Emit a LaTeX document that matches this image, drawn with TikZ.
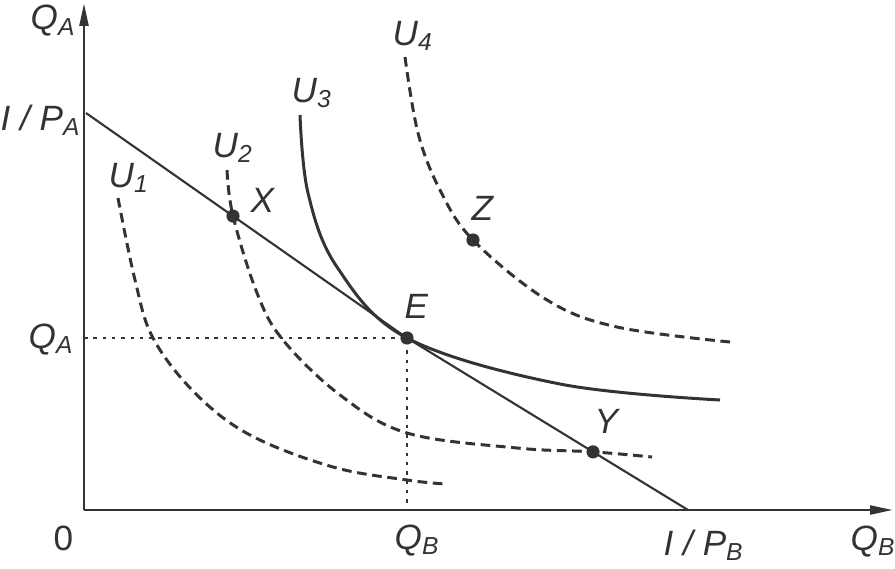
\documentclass[tikz,border=0pt]{standalone}
\usepackage{fontspec}
\setmainfont{Liberation Sans}
\usetikzlibrary{arrows.meta,calc}
\definecolor{ink}{gray}{0.2}
\newcommand{\lab}[2]{#1\raisebox{-3.2pt}{\fontsize{14}{14}\selectfont #2}}
\tikzset{
  dot/.style={circle, fill=ink, inner sep=0pt, minimum size=7.5pt},
  lbl/.style={inner sep=0pt, anchor=base west, text=ink, font=\fontsize{20}{24}\selectfont\itshape},
  indiff/.style={line width=1.7pt, dash pattern=on 5.5pt off 3.2pt},
  guide/.style={line width=1.2pt, dash pattern=on 2pt off 3.3pt},
  axis/.style={line width=1.6pt, -{Triangle[length=13pt,width=5pt]}},
}

\begin{document}
\begin{tikzpicture}[x=0.02cm, y=-0.02cm, ink, thick]
  \useasboundingbox (0,0) rectangle (895,568);
  \coordinate (O) at (84,510);
  \coordinate (ytop) at (84,3);
  \coordinate (xend) at (893,510);
  \coordinate (IPA) at (86,113);
  \coordinate (IPB) at (688,510);
  \coordinate (qa) at (84,338);
  \coordinate (qb) at (407,510);
  \node [dot] (E) at (407,338) {};
  \node [dot] (X) at ($(IPA)!0.458!(E)$) {};
  \node [dot] (Y) at ($(E)!0.662!(IPB)$) {};
  \node [dot] (Z) at (473,240) {};

  \draw [guide] (qa) -- (E.center) -- (qb);
  \draw [line width=1.2pt] (IPA) -- (E.center) -- (IPB);
  \draw [indiff] plot [smooth, tension=0.6] coordinates {(118,198) (135,280) (153,338) (195,393) (250,435) (333,467) (407,480) (445,484)};
  \draw [indiff] plot [smooth, tension=0.6] coordinates {(227,170) (X.center) (257,293) (283,340) (340,395) (407,433) (517,448) (Y.center) (652,457)};
  \draw [line width=1.7pt] plot [smooth, tension=0.6] coordinates {(300,115) (308,193) (337,267) (E.center) (560,384) (720,400)};
  \draw [indiff] plot [smooth, tension=0.6] coordinates {(405,57) (418,133) (440,190) (Z.center) (547,300) (617,327) (730,342)};
  \draw [axis] (O) -- (ytop);
  \draw [axis] (O) -- (xend);

  \node [lbl] (lqa) at (30,30) {\lab{Q}{A}};
  \node [lbl] (lipa) at (0,130) {I / \lab{P}{A}};
  \node [lbl] (lqa2) at (28,348) {\lab{Q}{A}};
  \node [lbl] (lzero) at (53,550) {\upshape 0};
  \node [lbl] (lqb) at (394,549) {\lab{Q}{B}};
  \node [lbl] (lipb) at (663,555) {I / \lab{P}{B}};
  \node [lbl] (lqb2) at (850,550) {\lab{Q}{B}};
  \node [lbl] (lu1) at (108,187) {\lab{U}{1}};
  \node [lbl] (lu2) at (212,157) {\lab{U}{2}};
  \node [lbl] (lu3) at (291,102) {\lab{U}{3}};
  \node [lbl] (lu4) at (392,45) {\lab{U}{4}};
  \node [lbl] (lx) at (250,212) {X};
  \node [lbl] (lz) at (471,220) {Z};
  \node [lbl] (le) at (404,318) {E};
  \node [lbl] (ly) at (594,433) {Y};
\end{tikzpicture}
\end{document}
